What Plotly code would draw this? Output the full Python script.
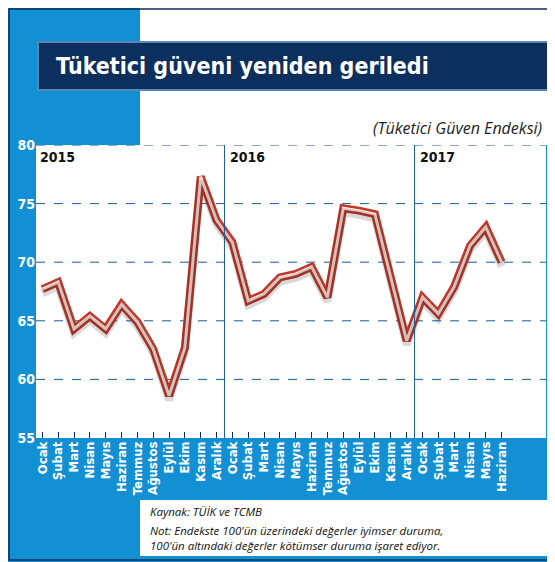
import plotly.graph_objects as go

aylar = ["Ocak", "Şubat", "Mart", "Nisan", "Mayıs", "Haziran", "Temmuz", "Ağustos",
         "Eylül", "Ekim", "Kasım", "Aralık"]
ay_etiketleri = aylar + aylar + aylar[:6]
endeks = [67.7, 68.3, 64.3, 65.4, 64.3, 66.4, 64.9, 62.6, 58.6, 62.7, 77.3, 73.6,
          71.7, 66.7, 67.3, 68.7, 69.0, 69.6, 67.0, 74.6, 74.4, 74.1, 68.7, 63.3,
          67.0, 65.6, 67.9, 71.4, 73.0, 70.0]
yillar = ["2015", "2016", "2017"]
y_ticks = [55, 60, 65, 70, 75, 80]

# the page body adds ~8px margin, so the figure is drawn 8px smaller
OFF = 8
W, H = 555 - OFF, 562 - OFF
L, R, T, B = 36 - OFF, 546 - OFF, 145 - OFF, 438 - OFF
MAVI = "#138fd3"
LACIVERT = "#0d2f5e"
COND = "DejaVu Sans Condensed"


def px_x(x):
    return (x - OFF - L) / (R - L)


def px_y(y):
    return (B - (y - OFF)) / (B - T)


x = list(range(len(endeks)))

fig = go.Figure()
fig.add_trace(go.Scatter(x=x, y=endeks, mode="lines", yaxis="y2",
                         line=dict(color="rgba(0,0,0,0.15)", width=8), hoverinfo="skip"))
fig.add_trace(go.Scatter(x=x, y=endeks, mode="lines",
                         line=dict(color="#c0392b", width=8)))
fig.add_trace(go.Scatter(x=x, y=endeks, mode="lines",
                         line=dict(color="#fbe3dc", width=3)))

shapes = [
    dict(type="rect", xref="paper", yref="paper", x0=px_x(140), x1=px_x(549),
         y0=px_y(6), y1=px_y(145), fillcolor="white", line_width=0, layer="below"),
    dict(type="rect", xref="paper", yref="paper", x0=px_x(38), x1=px_x(548),
         y0=px_y(42), y1=px_y(90), fillcolor=LACIVERT,
         line=dict(color="#5a86b8", width=2)),
    dict(type="rect", xref="paper", yref="paper", x0=px_x(140), x1=px_x(549),
         y0=px_y(500), y1=px_y(556), fillcolor="white", line_width=0, layer="below"),
    dict(type="rect", xref="paper", yref="paper", x0=px_x(9), x1=px_x(553),
         y0=px_y(9), y1=px_y(560), line=dict(color=LACIVERT, width=1.5)),
]
for i in (1, 2):
    shapes.append(dict(type="line", xref="x", yref="y", x0=12 * i - 0.5, x1=12 * i - 0.5,
                       y0=55, y1=80, line=dict(color="#1d5a96", width=1)))
for v in y_ticks[1:]:
    shapes.append(dict(type="line", xref="paper", yref="y", x0=0, x1=1, y0=v, y1=v,
                       line=dict(color="#1d5a96", width=1, dash="dash"), layer="below"))

annotations = [
    dict(text="<b>Tüketici güveni yeniden geriledi</b>", x=px_x(54), y=px_y(66),
         xref="paper", yref="paper", xanchor="left", yanchor="middle", showarrow=False,
         font=dict(family=COND, size=23, color="white")),
    dict(text="<i>(Tüketici Güven Endeksi)</i>", x=px_x(544), y=px_y(128),
         xref="paper", yref="paper", xanchor="right", yanchor="middle", showarrow=False,
         font=dict(family="Open Sans", size=16, color="#222")),
    dict(text="<i>Kaynak: TÜİK ve TCMB</i>", x=px_x(148), y=px_y(511),
         xref="paper", yref="paper", xanchor="left", yanchor="middle", showarrow=False,
         font=dict(family="Open Sans", size=11.5, color="#111")),
    dict(text="<i>Not: Endekste 100'ün üzerindeki değerler iyimser duruma,<br>"
              "100'ün altındaki değerler kötümser duruma işaret ediyor.</i>",
         x=px_x(148), y=px_y(538), xref="paper", yref="paper", xanchor="left",
         yanchor="middle", align="left", showarrow=False,
         font=dict(family="Open Sans", size=11.5, color="#111")),
]
for i, yil in enumerate(yillar):
    annotations.append(dict(text="<b>" + yil + "</b>", x=12 * i, y=px_y(157),
                            xref="x", yref="paper", xanchor="left", xshift=-4,
                            yanchor="middle", showarrow=False,
                            font=dict(family=COND, size=14, color="#111")))

fig.update_layout(
    width=W, height=H,
    margin=dict(l=L, r=W - R, t=T, b=H - B),
    paper_bgcolor=MAVI, plot_bgcolor="white",
    showlegend=False,
    shapes=shapes, annotations=annotations,
    xaxis=dict(range=[-0.4, 31.8], tickvals=x, ticktext=["<b>" + a + "</b>" for a in ay_etiketleri],
               tickangle=-90, ticks="inside", ticklen=6, tickcolor=LACIVERT,
               showgrid=False, zeroline=False,
               tickfont=dict(family=COND, size=13, color="white")),
    yaxis=dict(range=[55, 80], tickvals=y_ticks, ticktext=["<b>%d</b>" % v for v in y_ticks],
               showgrid=False, zeroline=False, ticks="",
               tickfont=dict(family=COND, size=14, color="white")),
    yaxis2=dict(range=[55.35, 80.35], overlaying="y", visible=False),
)

fig.write_html("out.html")
